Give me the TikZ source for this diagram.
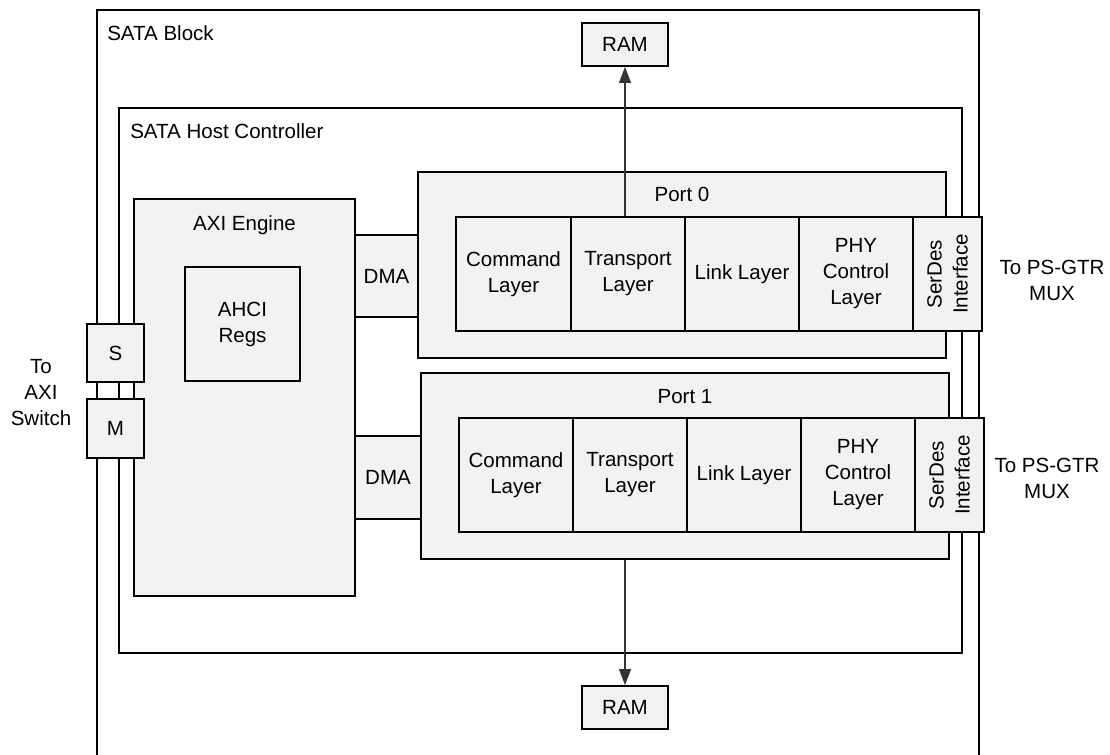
\documentclass[tikz,border=0pt]{standalone}
\usepackage{fontspec}
\setmainfont{Liberation Sans}
\usetikzlibrary{arrows.meta}
\begin{document}
\begin{tikzpicture}[x=0.75pt,y=-0.75pt,
  txt/.style={font=\fontsize{15.4pt}{19.5pt}\selectfont, align=center, inner sep=0pt},
  box/.style={draw, line width=1.4pt, fill=black!5, inner sep=0pt, txt},
  wbox/.style={box, fill=white},
  frame/.style={draw, line width=1.3pt},
  conn/.style={draw=black!80, line width=0.9pt, -{Triangle[length=12pt,width=9pt]}}
]
\useasboundingbox (0,0) rectangle (1110,755);
% SATA Block (open frame, bottom edge cut off)
\coordinate (blbl) at (97,755);
\coordinate (bltl) at (97,10);
\coordinate (bltr) at (979,10);
\coordinate (blbr) at (979,755);
\draw[frame] (blbl) -- (bltl) -- (bltr) -- (blbr);
\node[txt, anchor=base west] (sblabel) at (107,41) {SATA Block};
% Host controller
\node[wbox, minimum width=843*0.75pt, minimum height=545*0.75pt] (hc) at (540.5,380.5) {};
\node[txt, anchor=base west] (hclabel) at (130,139) {SATA Host Controller};
% AXI engine
\node[box, minimum width=221*0.75pt, minimum height=397*0.75pt] (axi) at (244.5,397.5) {};
\node[txt, anchor=base] (axilabel) at (244.5,231) {AXI Engine};
\node[box, minimum width=115*0.75pt, minimum height=114*0.75pt] (ahci) at (242.5,324) {AHCI\\Regs};
% S and M
\node[box, minimum width=57*0.75pt, minimum height=58*0.75pt] (s) at (115.5,353) {S};
\node[box, minimum width=57*0.75pt, minimum height=59*0.75pt] (m) at (115.5,428.5) {M};
\node[txt] (axisw) at (41,393) {To\\AXI\\Switch};
% DMA
\node[box, minimum width=63*0.75pt, minimum height=82*0.75pt] (dma0) at (386.5,276) {DMA};
\node[box, minimum width=66*0.75pt, minimum height=83*0.75pt] (dma1) at (388,477.5) {DMA};
% Ports
\node[box, minimum width=528*0.75pt, minimum height=186*0.75pt] (port0) at (682,265) {};
\node[txt, anchor=base] (p0label) at (682,202) {Port 0};
\node[box, minimum width=528*0.75pt, minimum height=186*0.75pt] (port1) at (685,466) {};
\node[txt, anchor=base] (p1label) at (685,403) {Port 1};
% Port 0 layers
\node[box, minimum width=115*0.75pt, minimum height=114*0.75pt] (cmd0) at (513.5,274) {Command\\Layer};
\node[box, minimum width=114*0.75pt, minimum height=114*0.75pt] (tr0) at (628,274) {Transport\\Layer};
\node[box, minimum width=114*0.75pt, minimum height=114*0.75pt] (link0) at (742,274) {Link Layer};
\node[box, minimum width=114*0.75pt, minimum height=114*0.75pt] (phy0) at (856,274) {PHY\\Control\\Layer};
\node[box, minimum width=69*0.75pt, minimum height=114*0.75pt] (sd0) at (947.5,274) {};
\node[txt, rotate=90] (sd0t) at (sd0.center) {SerDes\\Interface};
% Port 1 layers
\node[box, minimum width=114*0.75pt, minimum height=114*0.75pt] (cmd1) at (516,475) {Command\\Layer};
\node[box, minimum width=114*0.75pt, minimum height=114*0.75pt] (tr1) at (630,475) {Transport\\Layer};
\node[box, minimum width=114*0.75pt, minimum height=114*0.75pt] (link1) at (744,475) {Link Layer};
\node[box, minimum width=114*0.75pt, minimum height=114*0.75pt] (phy1) at (858,475) {PHY\\Control\\Layer};
\node[box, minimum width=69*0.75pt, minimum height=114*0.75pt] (sd1) at (949.5,475) {};
\node[txt, rotate=90] (sd1t) at (sd1.center) {SerDes\\Interface};
% MUX labels
\node[txt] (mux0) at (1052,280) {To PS-GTR\\MUX};
\node[txt] (mux1) at (1047,478) {To PS-GTR\\MUX};
% RAM
\node[box, minimum width=86*0.75pt, minimum height=43*0.75pt] (ram0) at (625,44.5) {RAM};
\node[box, minimum width=86*0.75pt, minimum height=43*0.75pt] (ram1) at (625,707.5) {RAM};
\draw[conn] (ram0.south |- tr0.north) -- (ram0.south);
\draw[conn] (ram1.north |- port1.south) -- (ram1.north);
\end{tikzpicture}
\end{document}
